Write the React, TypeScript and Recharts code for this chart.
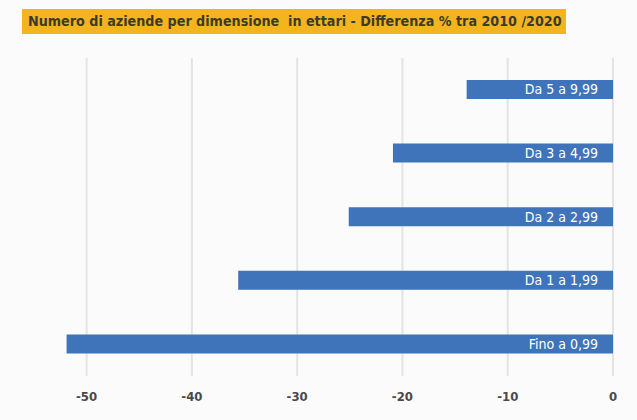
import { BarChart, Bar, XAxis, YAxis, CartesianGrid, LabelList } from "recharts";

const categories = ["Da 5 a 9,99", "Da 3 a 4,99", "Da 2 a 2,99", "Da 1 a 1,99", "Fino a 0,99"];
const differenza = [-13.9, -20.9, -25.1, -35.6, -51.9];
const xTicks = [-50, -40, -30, -20, -10, 0];

const data = categories.map((name, i) => ({ name, value: differenza[i] }));

const narrow = "'DejaVu Sans Condensed', 'Liberation Sans Narrow', sans-serif";

const BarText = (props: any) => {
  const { x, y, width, height, value } = props;
  const right = Math.max(x, x + width);
  return (
    <text
      x={right - 15}
      y={y + height / 2}
      dy="0.35em"
      textAnchor="end"
      fill="#ffffff"
      fontSize={14}
      fontFamily={narrow}
    >
      {value}
    </text>
  );
};

export default function App() {
  return (
    <div
      style={{
        position: "fixed",
        top: 0,
        left: 0,
        width: 637,
        height: 420,
        background: "#fbfbfb",
        fontFamily: narrow,
      }}
    >
      <div
        style={{
          position: "absolute",
          left: 22,
          top: 9,
          width: 544,
          height: 25,
          background: "#f4b41e",
          color: "#3d3a2a",
          fontFamily: narrow,
          fontWeight: "bold",
          fontSize: 14.2,
          lineHeight: "25px",
          paddingLeft: 6,
          boxSizing: "border-box",
          whiteSpace: "nowrap",
        }}
      >
        Numero di aziende per dimensione&nbsp; in ettari - Differenza % tra 2010 /2020
      </div>
      <BarChart
        width={637}
        height={420}
        data={data}
        layout="vertical"
        barSize={19}
        margin={{ top: 58, right: 24, bottom: 14, left: 55 }}
      >
        <CartesianGrid
          horizontal={false}
          verticalValues={xTicks}
          stroke="#e4e4e4"
          strokeWidth={2}
        />
        <XAxis
          type="number"
          domain={[-53, 0]}
          ticks={xTicks}
          allowDataOverflow
          axisLine={false}
          tickLine={false}
          tickSize={0}
          tickMargin={16}
          height={30}
          tick={{ fontSize: 13, fill: "#4a4a4a", fontWeight: "bold", fontFamily: narrow }}
        />
        <YAxis type="category" dataKey="name" hide />
        <Bar dataKey="value" fill="#3f74ba" isAnimationActive={false}>
          <LabelList dataKey="name" content={BarText} />
        </Bar>
      </BarChart>
    </div>
  );
}
